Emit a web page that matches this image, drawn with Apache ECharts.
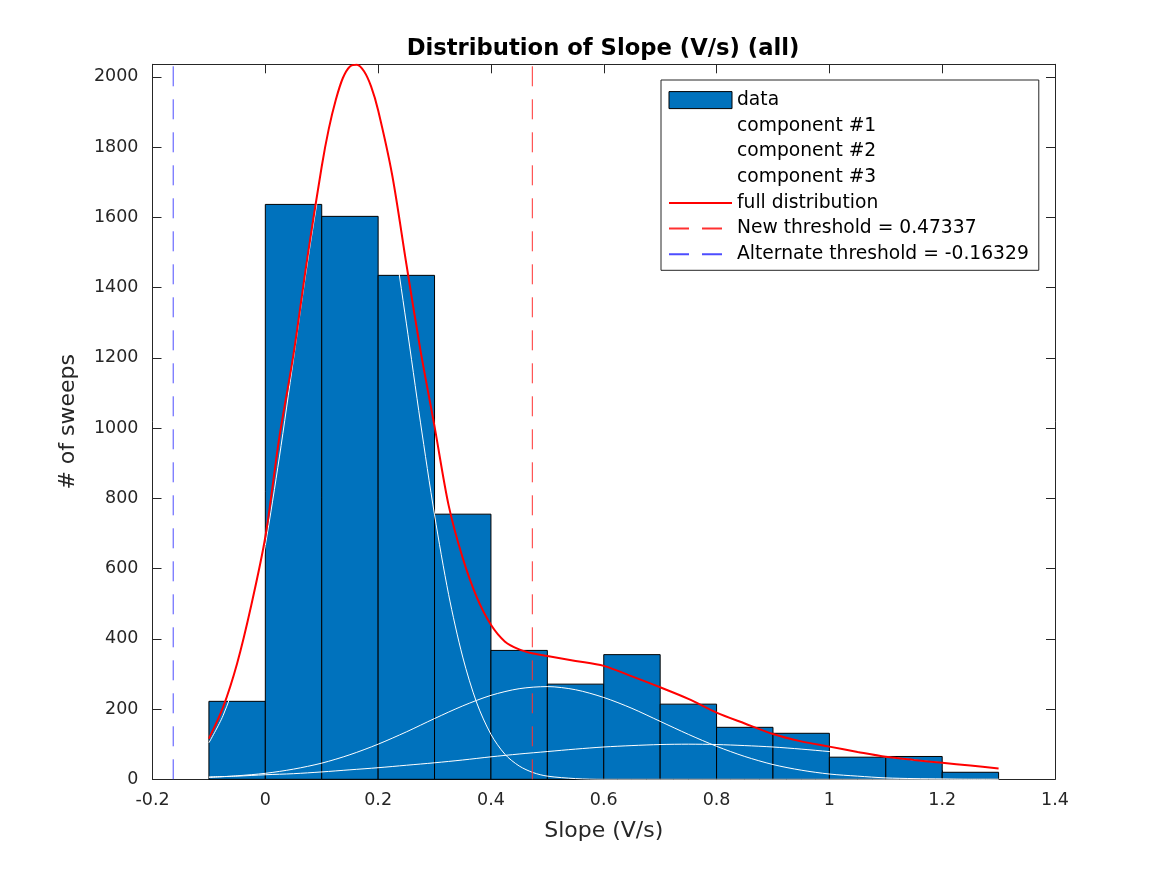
<!DOCTYPE html>
<html>
<head>
<meta charset="utf-8">
<script src="https://cdn.jsdelivr.net/npm/echarts@6/dist/echarts.min.js"></script>
<style>
html,body{margin:0;padding:0;background:#fff;}
#chart{width:1167px;height:875px;}
</style>
</head>
<body>
<div id="chart"></div>
<script>
// ---- data ----
const binEdges = [-0.1, 0, 0.1, 0.2, 0.3, 0.4, 0.5, 0.6, 0.7, 0.8, 0.9, 1.0, 1.1, 1.2, 1.3];
const counts = [222, 1637, 1603, 1435, 755, 367, 271, 355, 214, 148, 131, 63, 65, 20];

const fullX = [-0.1,-0.075,-0.05,-0.025,0,0.025,0.05,0.075,0.1,0.1125,0.125,0.1375,0.15,0.1625,0.175,0.1875,0.2,0.225,0.25,0.275,0.3,0.325,0.35,0.375,0.4,0.425,0.45,0.475,0.5,0.55,0.6,0.65,0.7,0.75,0.8,0.85,0.9,0.95,1.0,1.05,1.1,1.15,1.2,1.25,1.3];
const fullY = [116,205,330,495,690,975,1210,1490,1745,1852,1935,1997,2030,2035,2016,1973,1905,1720,1468,1222,1005,780,630,518,440,392,370,358,351,337,323,293,262,229,190,159,129,108,93,78,64,55,47,39,31];

const comp1X = [-0.1,-0.075,-0.05,-0.025,0,0.025,0.05,0.075,0.1,0.125,0.15,0.175,0.2,0.225,0.25,0.275,0.3,0.325,0.35,0.375,0.4,0.425,0.45,0.475,0.5,0.55,0.6,0.7,0.8,0.9,1.0,1.1,1.2,1.3];
const comp1Y = [104,181,295,456,666,918,1197,1474,1716,1887,1963,1926,1787,1567,1299,1017,753,526,348,217,128,71,38,19,9,2,0,0,0,0,0,0,0,0];

const compX = [-0.1,-0.05,0,0.05,0.1,0.15,0.2,0.25,0.3,0.35,0.4,0.45,0.5,0.55,0.6,0.65,0.7,0.75,0.8,0.85,0.9,0.95,1.0,1.05,1.1,1.15,1.2,1.25,1.3];
const comp2Y = [5,10,17,29,46,70,100,135,173,209,239,258,264,255,233,202,165,128,94,65,42,26,15,9,4,2,1,0,0];
const comp3Y = [7,9,13,16,21,27,33,40,47,55,64,72,79,86,92,96,99,100,99,96,92,86,79,72,64,55,47,40,33];

const newThreshold = 0.47337;
const altThreshold = -0.16329;
const yTop = 2036;

const xTicks = [-0.2, 0, 0.2, 0.4, 0.6, 0.8, 1, 1.2, 1.4];

// ---- chart ----
const FONT = 'DejaVu Sans';
const AX = '#262626';
const zip = (xs, ys) => xs.map((x, i) => [x, ys[i]]);

const chart = echarts.init(document.getElementById('chart'), null, {renderer: 'canvas'});

const xCommon = {
  type: 'value', min: -0.2, max: 1.4, interval: 0.2,
  axisLine: {show: true, onZero: false, lineStyle: {color: AX, width: 1}},
  axisTick: {show: true, inside: true, length: 9, lineStyle: {color: AX}},
  splitLine: {show: false}
};
const yCommon = {
  type: 'value', min: 0, max: yTop, interval: 200,
  axisLine: {show: true, onZero: false, lineStyle: {color: AX, width: 1}},
  axisTick: {show: true, inside: true, length: 9, lineStyle: {color: AX}},
  splitLine: {show: false}
};

const hiddenSymbol = {color: 'rgba(0,0,0,0)', borderWidth: 0, opacity: 0};

const option = {
  animation: false,
  backgroundColor: '#fff',
  title: {
    text: 'Distribution of Slope (V/s) (all)',
    left: 598, top: 33, textAlign: 'center',
    textStyle: {fontFamily: FONT, fontSize: 22.7, fontWeight: 'bold', color: '#000'}
  },
  grid: {left: 152.5, right: 112, top: 64.3, bottom: 95.7, containLabel: false},
  xAxis: [
    Object.assign({}, xCommon, {
      position: 'bottom',
      name: 'Slope (V/s)', nameLocation: 'middle', nameGap: 41,
      nameTextStyle: {fontFamily: FONT, fontSize: 22, color: AX},
      axisLabel: {
        fontFamily: FONT, fontSize: 17.5, color: AX, margin: 12,
        formatter: v => {
          const r = Math.round(v * 10) / 10;
          return xTicks.some(t => Math.abs(t - r) < 1e-9) ? String(r) : '';
        }
      }
    }),
    Object.assign({}, xCommon, {position: 'top', axisLabel: {show: false}})
  ],
  yAxis: [
    Object.assign({}, yCommon, {
      position: 'left',
      name: '# of sweeps', nameLocation: 'middle', nameGap: 73.5,
      nameTextStyle: {fontFamily: FONT, fontSize: 22, color: AX},
      axisLabel: {fontFamily: FONT, fontSize: 17.5, color: AX, margin: 14, showMaxLabel: false,
        formatter: v => (v % 200 === 0 ? String(v) : '')}
    }),
    Object.assign({}, yCommon, {position: 'right', axisLabel: {show: false}})
  ],
  legend: {
    orient: 'vertical', left: 661, top: 80,
    itemWidth: 63, itemHeight: 17, itemGap: 6.7,
    padding: [10.6, 10, 6.5, 7],
    backgroundColor: '#fff', borderColor: AX, borderWidth: 1,
    textStyle: {fontFamily: FONT, fontSize: 18.7, color: '#000'},
    data: [
      {name: 'data', icon: 'rect', itemStyle: {color: '#0072BD', borderColor: '#000', borderWidth: 1}},
      {name: 'component #1', itemStyle: hiddenSymbol},
      {name: 'component #2', itemStyle: hiddenSymbol},
      {name: 'component #3', itemStyle: hiddenSymbol},
      {name: 'full distribution', itemStyle: hiddenSymbol},
      {name: 'New threshold = 0.47337', itemStyle: hiddenSymbol},
      {name: 'Alternate threshold = -0.16329', itemStyle: hiddenSymbol}
    ]
  },
  series: [
    {
      name: 'data', type: 'custom',
      xAxisIndex: 0, yAxisIndex: 0,
      itemStyle: {color: '#0072BD', borderColor: '#000', borderWidth: 1},
      encode: {x: [0, 1], y: 2},
      data: counts.map((c, i) => [binEdges[i], binEdges[i + 1], c]),
      renderItem: function (params, api) {
        const p0 = api.coord([api.value(0), api.value(2)]);
        const p1 = api.coord([api.value(1), 0]);
        return {
          type: 'rect',
          shape: {x: p0[0], y: p0[1], width: p1[0] - p0[0], height: p1[1] - p0[1]},
          style: {fill: '#0072BD', stroke: '#000', lineWidth: 1}
        };
      },
      z: 1
    },
    {
      name: 'component #1', type: 'line', data: zip(comp1X, comp1Y),
      showSymbol: false, symbol: 'none', smooth: 0.3,
      lineStyle: {color: '#ffffff', width: 1}, itemStyle: {color: '#ffffff'}, z: 3
    },
    {
      name: 'component #2', type: 'line', data: zip(compX, comp2Y),
      showSymbol: false, symbol: 'none', smooth: 0.3,
      lineStyle: {color: '#ffffff', width: 1}, itemStyle: {color: '#ffffff'}, z: 3
    },
    {
      name: 'component #3', type: 'line', data: zip(compX, comp3Y),
      showSymbol: false, symbol: 'none', smooth: 0.3,
      lineStyle: {color: '#ffffff', width: 1}, itemStyle: {color: '#ffffff'}, z: 3
    },
    {
      name: 'full distribution', type: 'line', data: zip(fullX, fullY),
      showSymbol: false, symbol: 'none', smooth: 0.3,
      lineStyle: {color: '#ff0000', width: 2}, itemStyle: {color: '#ff0000'}, z: 4
    },
    {
      name: 'New threshold = 0.47337', type: 'line',
      data: [[newThreshold, 0], [newThreshold, yTop]],
      showSymbol: false, symbol: 'none',
      lineStyle: {color: '#ff3030', width: 1, type: [20, 13]}, itemStyle: {color: '#ff0000'}, z: 5
    },
    {
      name: 'Alternate threshold = -0.16329', type: 'line',
      data: [[altThreshold, 0], [altThreshold, yTop]],
      showSymbol: false, symbol: 'none',
      lineStyle: {color: '#4d4dff', width: 1, type: [20, 13]}, itemStyle: {color: '#0000ff'}, z: 5
    }
  ]
};
chart.setOption(option);
</script>
</body>
</html>
